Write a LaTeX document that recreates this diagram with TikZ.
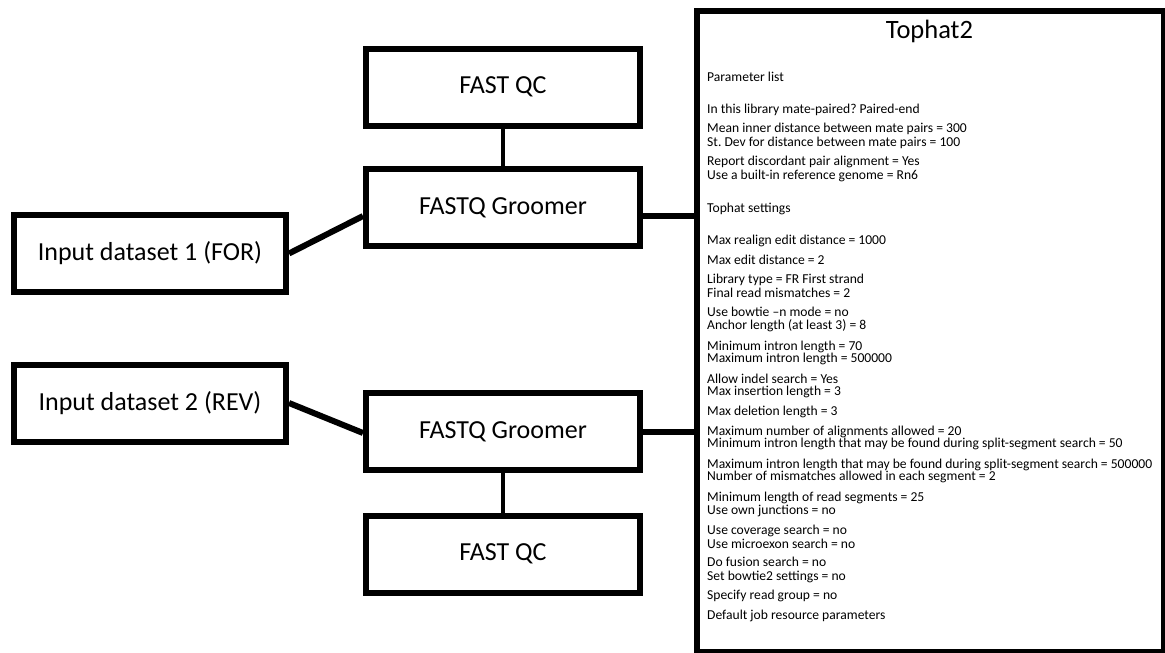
\documentclass[tikz,border=0pt]{standalone}
\usepackage{fontspec}
\setmainfont{Carlito}
\frenchspacing
\begin{document}
\begin{tikzpicture}[x=1pt,y=-1pt,
  box/.style={draw=black,line width=6pt,rectangle,minimum width=274pt,minimum height=77pt,inner sep=0pt,font=\fontsize{26}{28}\selectfont},
  inbox/.style={box,minimum width=272pt},
  conn/.style={draw=black,line width=6pt},
  thin conn/.style={draw=black,line width=4.5pt},
  param/.style={anchor=mid west,inner sep=0pt,font=\fontsize{13.6}{14}\selectfont}]
\useasboundingbox (0,0) rectangle (1165,653);
% Tophat box
\node[draw=black,line width=6pt,rectangle,minimum width=467pt,minimum height=641pt,inner sep=0pt] (tophat) at (930.5,331.5) {};
\node[font=\fontsize{26.5}{28}\selectfont,inner sep=0pt] (title) at (929.5,31.5) {Tophat2};
\foreach \yy/\txt [count=\k] in {
79/Parameter list,
111/In this library mate-paired? Paired-end,
130/Mean inner distance between mate pairs = 300,
144/St. Dev for distance between mate pairs = 100,
163/Report discordant pair alignment = Yes,
177/Use a built-in reference genome = Rn6,
210/Tophat settings,
242/Max realign edit distance = 1000,
262/Max edit distance = 2,
281/Library type = FR First strand,
295/Final read mismatches = 2,
314/Use bowtie –n mode = no,
327/Anchor length (at least 3) = 8,
348/Minimum intron length = 70,
360/Maximum intron length = 500000,
381/Allow indel search = Yes,
393/Max insertion length = 3,
413/Max deletion length = 3,
433/Maximum number of alignments allowed = 20,
445/Minimum intron length that may be found during split-segment search = 50,
466/Maximum intron length that may be found during split-segment search = 500000,
478/Number of mismatches allowed in each segment = 2,
499/Minimum length of read segments = 25,
512/Use own junctions = no,
532/Use coverage search = no,
546/Use microexon search = no,
564/Do fusion search = no,
578/Set bowtie2 settings = no,
597/Specify read group = no,
617/Default job resource parameters}
  \node[param] (p\k) at (707,\yy) {\txt};
% boxes
\node[box] (qc1) at (503,87) {FAST QC};
\node[box] (g1) at (503,207.5) {FASTQ Groomer};
\node[inbox] (in1) at (150,253.5) {Input dataset 1 (FOR)};
\node[inbox] (in2) at (150,403) {Input dataset 2 (REV)};
\node[box] (g2) at (503,431.5) {FASTQ Groomer};
\node[box] (qc2) at (503,554) {FAST QC};
% connectors
\path[thin conn] (qc1.south) -- (g1.north);
\path[thin conn] (g2.south) -- (qc2.north);
\path[conn] (in1.east) -- ([yshift=-8.5pt]g1.west);
\path[conn] (in2.east) -- ([yshift=-1.5pt]g2.west);
\path[conn] ([yshift=-8pt]g1.east) -- ([yshift=-8pt]g1.east -| tophat.west);
\path[conn] (g2.east) -- (g2.east -| tophat.west);
\end{tikzpicture}
\end{document}
